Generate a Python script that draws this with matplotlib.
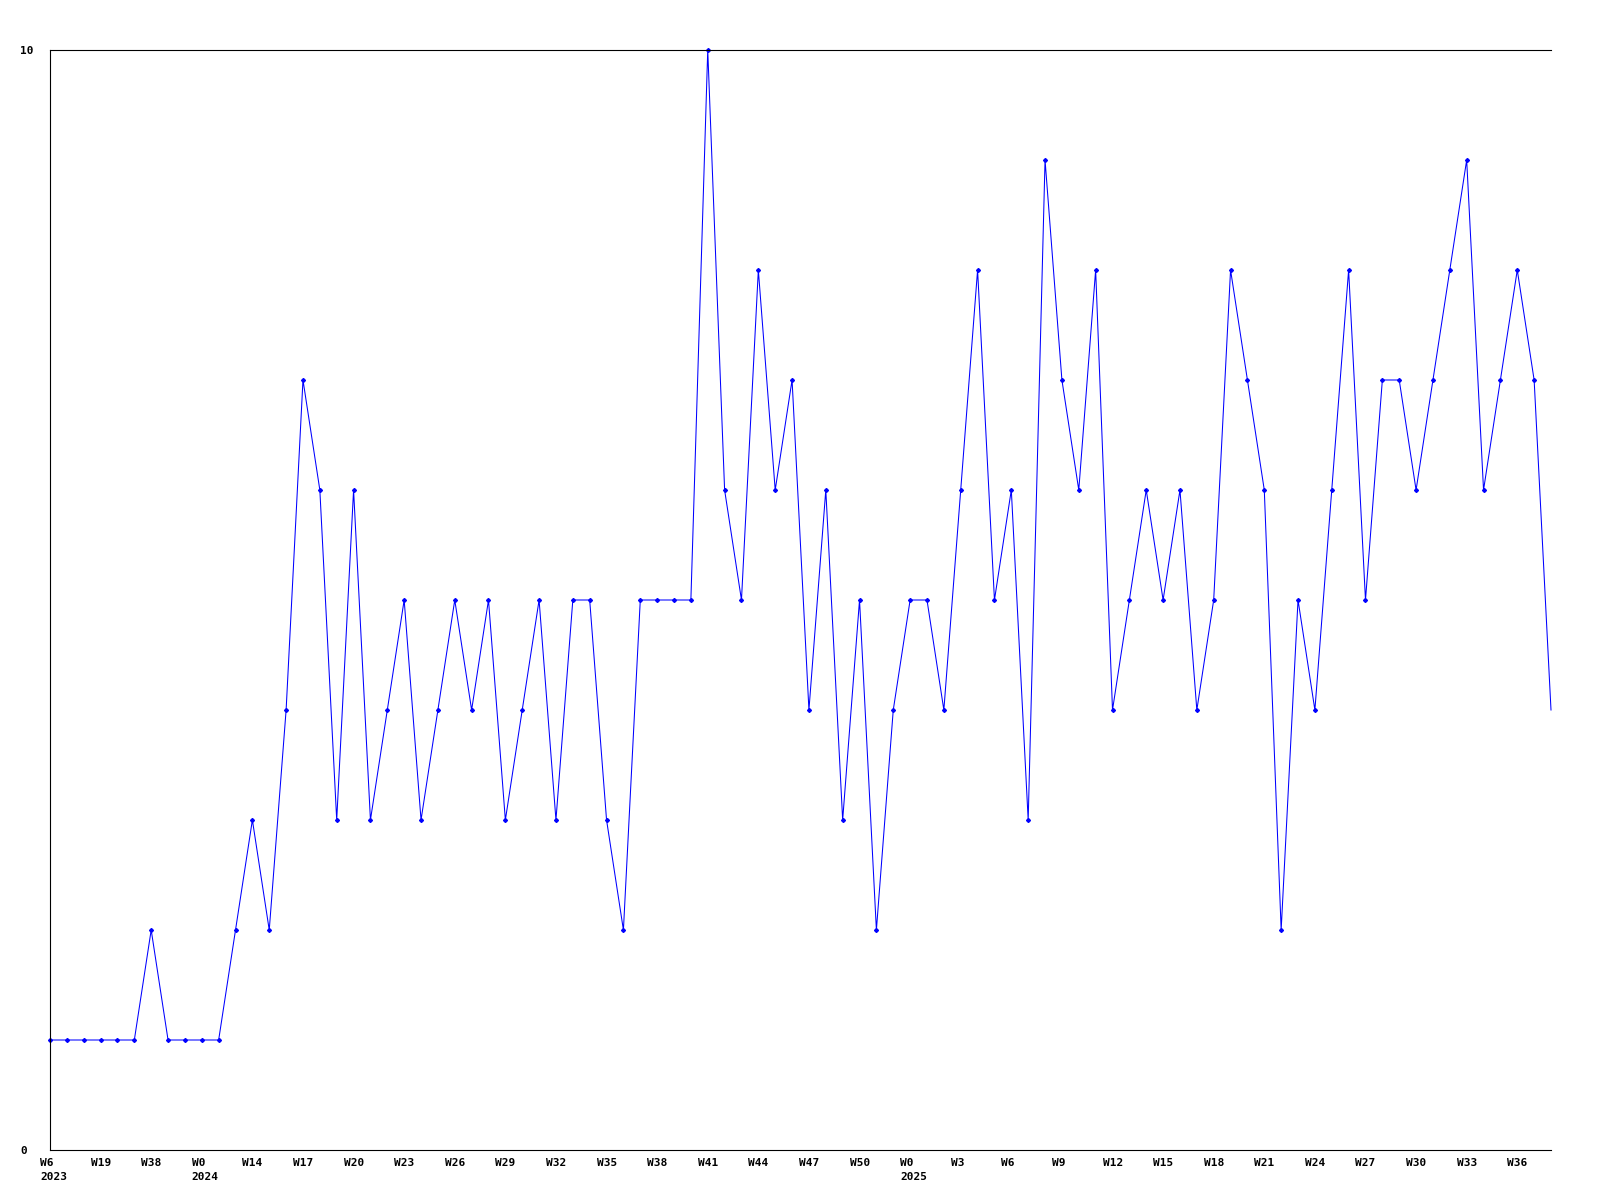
import matplotlib
matplotlib.use('Agg')
import matplotlib.pyplot as plt
import matplotlib.transforms as mtransforms

# weekly counts, one point per week
values = [1, 1, 1, 1, 1, 1, 2, 1, 1, 1,
          1, 2, 3, 2, 4, 7, 6, 3, 6, 3,
          4, 5, 3, 4, 5, 4, 5, 3, 4, 5,
          3, 5, 5, 3, 2, 5, 5, 5, 5, 10,
          6, 5, 8, 6, 7, 4, 6, 3, 5, 2,
          4, 5, 5, 4, 6, 8, 5, 6, 3, 9,
          7, 6, 8, 4, 5, 6, 5, 6, 4, 5,
          8, 7, 6, 2, 5, 4, 6, 8, 5, 7,
          7, 6, 7, 8, 9, 6, 7, 8, 7, 4]

# a label every third point
tick_labels = ['W6\n2023', 'W19', 'W38', 'W0\n2024', 'W14', 'W17', 'W20', 'W23',
               'W26', 'W29', 'W32', 'W35', 'W38', 'W41', 'W44', 'W47', 'W50',
               'W0\n2025', 'W3', 'W6', 'W9', 'W12', 'W15', 'W18', 'W21', 'W24',
               'W27', 'W30', 'W33', 'W36']

x = list(range(len(values)))
tick_pos = x[::3]

plt.rcParams['font.family'] = ['DejaVu Sans Mono']
plt.rcParams['font.weight'] = 'bold'

fig = plt.figure(figsize=(16, 12), dpi=100)
ax = fig.add_axes([50 / 1600, 50 / 1200, 1501 / 1600, 1100 / 1200])

ax.plot(x, values, color='#0000ff', linewidth=0.75, marker='D', markersize=2.0,
        markevery=list(range(len(values) - 1)), clip_on=False)

ax.set_xlim(0, len(values) - 1)
ax.set_ylim(0, 10)

ax.spines['right'].set_visible(False)
for s in ['left', 'top', 'bottom']:
    ax.spines[s].set_linewidth(0.8)

ax.set_yticks([0, 10])
ax.set_yticklabels(['0', '10'], fontsize=8, fontweight='bold')
ax.tick_params(axis='y', length=0)

ax.set_xticks(tick_pos)
ax.set_xticklabels(tick_labels, fontsize=8, fontweight='bold', linespacing=1.5)
ax.tick_params(axis='x', length=0, pad=6)
for t in ax.get_xticklabels():
    t.set_horizontalalignment('left')

# labels start a bit left of their point
offset = mtransforms.ScaledTranslation(-10 / 100, 0, fig.dpi_scale_trans)
for t in ax.get_xticklabels():
    t.set_transform(t.get_transform() + offset)
offset_y = mtransforms.ScaledTranslation(-30 / 100, 0, fig.dpi_scale_trans)
for t in ax.get_yticklabels():
    t.set_horizontalalignment('left')
    t.set_transform(ax.get_yaxis_transform() + offset_y)
    t.set_x(0)

fig.savefig('out.png', dpi=100)
